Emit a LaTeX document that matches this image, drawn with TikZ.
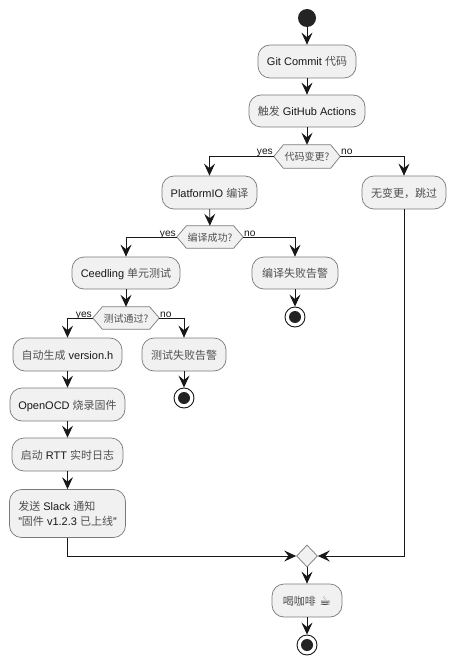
\documentclass[tikz,border=0pt]{standalone}
\usepackage{fontspec}
\setmainfont{Liberation Sans}
\newfontfamily\cjkfont{Noto Sans CJK SC}
\newfontfamily\emojifont{DejaVu Sans}
\usetikzlibrary{arrows.meta,shapes.geometric,backgrounds}
\definecolor{ink}{HTML}{181818}
\definecolor{boxfill}{HTML}{F1F1F1}
\definecolor{boxline}{HTML}{7A7A7A}
\definecolor{zhcol}{HTML}{505050}
\newcommand{\zh}[1]{{\cjkfont\color{zhcol}#1}}
\tikzset{
  x=1pt,y=-1pt,
  actbase/.style={draw=boxline,line width=0.7pt,fill=boxfill,rounded corners=12pt,inner sep=0pt,font=\fontsize{11}{15}\selectfont,text=ink,align=center},
  actbox/.style={actbase,text height=9pt,text depth=0pt},
  hexbox/.style={inner sep=0pt,font=\fontsize{10}{12}\selectfont,text=ink,text height=8.4pt,text depth=0pt},
  hexline/.style={draw=boxline,line width=0.7pt,fill=boxfill},
  merge/.style={diamond,draw=boxline,line width=0.7pt,fill=boxfill,inner sep=0pt,minimum width=21pt,minimum height=22pt,aspect=1},
  startdot/.style={circle,fill=ink!95!white,inner sep=0pt,minimum size=18pt},
  enddot/.style={circle,draw=ink,line width=0.9pt,fill=white,inner sep=0pt,minimum size=20pt,path picture={\fill[ink!95!white] (path picture bounding box.center) circle (6pt);}},
  flow/.style={draw=ink,line width=0.9pt,-{Stealth[length=12pt,width=11pt,inset=4.5pt]}},
  branch/.style={font=\fontsize{10.2}{12}\selectfont,text=ink,inner sep=0pt}
}
\newcommand{\hexa}[1]{\begin{pgfonlayer}{background}\draw[hexline] (#1.west) -- ([xshift=9.5pt]#1.north west) -- ([xshift=-9.5pt]#1.north east) -- (#1.east) -- ([xshift=-9.5pt]#1.south east) -- ([xshift=9.5pt]#1.south west) -- cycle;\end{pgfonlayer}}
\begin{document}
\begin{tikzpicture}
\useasboundingbox (0,0) rectangle (454,663);
\node[startdot] (start) at (307,18) {};
\node[actbox,minimum width=98pt,minimum height=33pt] (git) at (307,61.5) {Git Commit \zh{代码}};
\node[actbox,minimum width=116pt,minimum height=32pt] (gha) at (307,111) {\zh{触发} GitHub Actions};
\node[hexbox,minimum width=66pt,minimum height=23pt] (d1) at (307,156.5) {\zh{代码变更?}};
\hexa{d1}
\node[actbox,minimum width=95pt,minimum height=33pt] (pio) at (209.5,192.5) {PlatformIO \zh{编译}};
\node[actbox,minimum width=84pt,minimum height=33pt] (skip) at (404,192.5) {\zh{无变更，跳过}};
\node[hexbox,minimum width=66pt,minimum height=22pt] (d2) at (210,237) {\zh{编译成功?}};
\hexa{d2}
\node[actbox,minimum width=108pt,minimum height=32pt] (ceed) at (126,273) {Ceedling \zh{单元测试}};
\node[actbox,minimum width=86pt,minimum height=32pt] (bfail) at (295,273) {\zh{编译失败告警}};
\node[enddot] (end1) at (295,317) {};
\node[hexbox,minimum width=66pt,minimum height=22pt] (d3) at (126,318) {\zh{测试通过?}};
\hexa{d3}
\node[actbox,minimum width=109pt,minimum height=33pt] (ver) at (67.5,354.5) {\zh{自动生成} version.h};
\node[actbox,minimum width=84pt,minimum height=33pt] (tfail) at (184,354.5) {\zh{测试失败告警}};
\node[enddot] (end2) at (184,398) {};
\node[actbox,minimum width=115pt,minimum height=33pt] (ocd) at (67.5,404.5) {OpenOCD \zh{烧录固件}};
\node[actbox,minimum width=111pt,minimum height=33pt] (rtt) at (67.5,454.5) {\zh{启动} RTT \zh{实时日志}};
\node[actbase,minimum width=116pt,minimum height=48pt,align=left] (slack) at (67.5,513.5) {\zh{发送} Slack \zh{通知}\\"\zh{固件} v1.2.3 \zh{已上线}"};
\node[merge] (join) at (307,556) {};
\node[actbox,minimum width=70pt,minimum height=33pt] (cof) at (307,600.5) {\zh{喝咖啡}\hspace{3.5pt}{\emojifont\fontsize{13}{12}\selectfont\color{ink}☕}};
\node[enddot] (end3) at (307,645) {};
\node[branch,anchor=base east] (yes1) at (273,155) {yes};
\node[branch,anchor=base west] (no1) at (341,155) {no};
\node[branch,anchor=base east] (yes2) at (176,236) {yes};
\node[branch,anchor=base west] (no2) at (244,236) {no};
\node[branch,anchor=base east] (yes3) at (92,317) {yes};
\node[branch,anchor=base west] (no3) at (160,317) {no};
\draw[flow] (start) -- (git);
\draw[flow] (git) -- (gha);
\draw[flow] (gha) -- (d1);
\draw[flow] (d1.west) -| (pio.north);
\draw[flow] (d1.east) -| (skip.north);
\draw[flow] (pio) -- (d2);
\draw[flow] (d2.west) -| (ceed.north);
\draw[flow] (d2.east) -| (bfail.north);
\draw[flow] (bfail) -- (end1);
\draw[flow] (ceed) -- (d3);
\draw[flow] (d3.west) -| (ver.north);
\draw[flow] (d3.east) -| (tfail.north);
\draw[flow] (tfail) -- (end2);
\draw[flow] (ver) -- (ocd);
\draw[flow] (ocd) -- (rtt);
\draw[flow] (rtt) -- (slack);
\draw[flow] (slack.south) |- (join.west);
\draw[flow] (skip.south) |- (join.east);
\draw[flow] (join) -- (cof);
\draw[flow] (cof) -- (end3);
\end{tikzpicture}
\end{document}
